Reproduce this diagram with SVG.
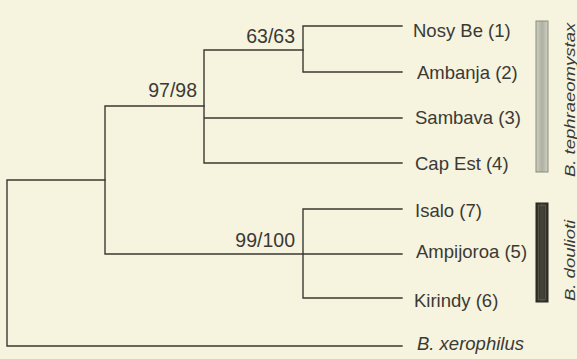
<svg xmlns="http://www.w3.org/2000/svg" width="577" height="359" viewBox="0 0 577 359">
<style>
.bg{fill:#f6f3df}
.br{fill:none;stroke:#3a3a32;stroke-width:1.4;stroke-linecap:square}
.lab{font-family:"Liberation Sans",Arial,sans-serif;font-size:18.5px;fill:#3a3a34}
.sup{font-family:"Liberation Sans",Arial,sans-serif;font-size:19.5px;fill:#3a3a34;text-anchor:end}
.it{font-style:italic}
</style>
<defs>
<linearGradient id="gGray" x1="0" y1="0" x2="1" y2="0">
<stop offset="0" stop-color="#cfd0c1"/>
<stop offset="0.5" stop-color="#aeb0a1"/>
<stop offset="1" stop-color="#cfd0c1"/>
</linearGradient>
<linearGradient id="gDark" x1="0" y1="0" x2="1" y2="0">
<stop offset="0" stop-color="#2e2e26"/>
<stop offset="0.5" stop-color="#45453a"/>
<stop offset="1" stop-color="#2e2e26"/>
</linearGradient>
</defs>
<rect class="bg" x="0" y="0" width="577" height="359"/>
<g id="connectors">
<path class="br" d="M105,180 H7 V346 H402"/>
<path class="br" d="M204,106 H105 V254 H303"/>
<path class="br" d="M303,50 H204 V163 H402 M204,118 H402"/>
<path class="br" d="M402,26 H303 V72 H402"/>
<path class="br" d="M402,209 H303 V298 H402 M303,254 H402"/>
</g>
<g id="support">
<text class="sup" x="295" y="43">63/63</text>
<text class="sup" x="197" y="97">97/98</text>
<text class="sup" x="295" y="247">99/100</text>
</g>
<g id="node-nosybe"><text class="lab" x="413" y="37">Nosy Be (1)</text></g>
<g id="node-ambanja"><text class="lab" x="417" y="79">Ambanja (2)</text></g>
<g id="node-sambava"><text class="lab" x="415" y="124">Sambava (3)</text></g>
<g id="node-capest"><text class="lab" x="415" y="170">Cap Est (4)</text></g>
<g id="node-isalo"><text class="lab" x="415" y="217">Isalo (7)</text></g>
<g id="node-ampijoroa"><text class="lab" x="416" y="258">Ampijoroa (5)</text></g>
<g id="node-kirindy"><text class="lab" x="414" y="307">Kirindy (6)</text></g>
<g id="node-xerophilus"><text class="lab it" x="417" y="350">B. xerophilus</text></g>
<g id="clade-tephraeomystax">
<rect x="536" y="21" width="12" height="151" fill="url(#gGray)" stroke="#8a8c7c" stroke-width="1"/>
<text class="lab it" transform="translate(575,177) scale(0.75,1) rotate(-90)" x="0" y="0">B. tephraeomystax</text>
</g>
<g id="clade-doulioti">
<rect x="536" y="203" width="12" height="99" fill="url(#gDark)" stroke="#26261f" stroke-width="1"/>
<rect x="538.5" y="205.5" width="7" height="94" fill="none" stroke="#5c5c4e" stroke-width="0.8"/>
<text class="lab it" transform="translate(575,301) scale(0.75,1) rotate(-90)" x="0" y="0">B. doulioti</text>
</g>
</svg>
